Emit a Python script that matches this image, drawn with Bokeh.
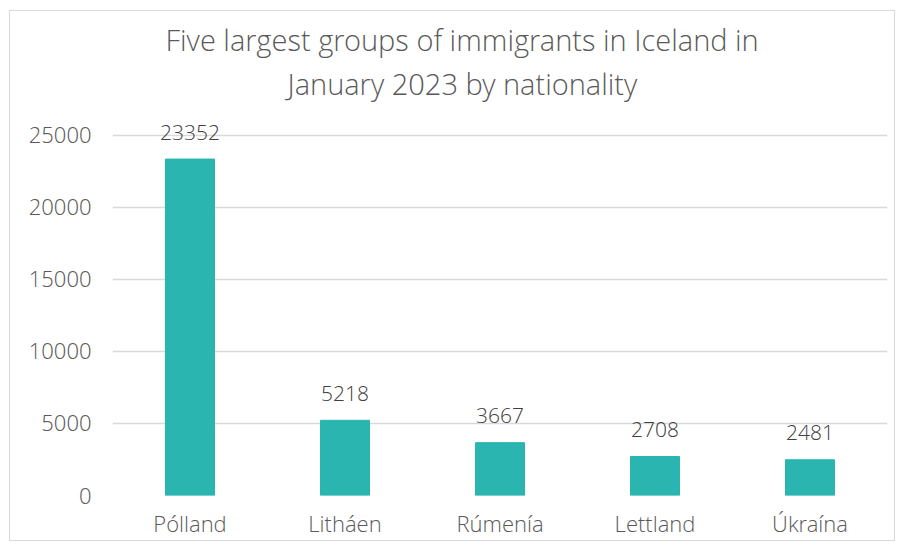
from bokeh.plotting import figure
from bokeh.models import ColumnDataSource, Range1d, FixedTicker, Title
from bokeh.core.properties import value
from bokeh.embed import file_html
from bokeh.resources import INLINE

countries = ["Pólland", "Litháen", "Rúmenía", "Lettland", "Úkraína"]
counts = [23352, 5218, 3667, 2708, 2481]
y_ticks = [0, 5000, 10000, 15000, 20000, 25000]
title_lines = ["Five largest groups of immigrants in Iceland in", "January 2023 by nationality"]

FONT = "Open Sans Light"
src = ColumnDataSource(dict(x=countries, top=counts, lab=[str(c) for c in counts]))

p = figure(x_range=countries, y_range=Range1d(0, 27000), title=None,
           width=886, height=531, output_backend="svg", toolbar_location=None,
           min_border_left=102, min_border_right=9, min_border_top=95, min_border_bottom=47,
           styles={"border": "1px solid #d9d9d9", "margin-left": "9px", "margin-top": "10px"})
p.vbar(x="x", top="top", width=0.316, source=src, color="#2ab5b0")
p.text(x="x", y="top", text="lab", source=src, text_align="center", text_baseline="alphabetic",
       y_offset=-27, text_font=value(FONT), text_font_size="21px", text_color="#404040")

# line 2 first (nearest the frame), then line 1 above it
p.add_layout(Title(text=title_lines[1], align="left", offset=175, standoff=7,
                   text_font=FONT, text_font_size="29px", text_font_style="normal",
                   text_color="#595959"), "above")
p.add_layout(Title(text=title_lines[0], align="left", offset=53, standoff=0,
                   text_line_height=1.5,
                   text_font=FONT, text_font_size="29px", text_font_style="normal",
                   text_color="#595959"), "above")

p.outline_line_color = None
p.xgrid.grid_line_color = None
p.ygrid.grid_line_color = "#d9d9d9"
p.ygrid.grid_line_width = 1.5
p.yaxis.ticker = FixedTicker(ticks=y_ticks)
for ax in (p.xaxis, p.yaxis):
    ax.axis_line_color = None
    ax.major_tick_line_color = None
    ax.minor_tick_line_color = None
    ax.major_label_text_font = FONT
    ax.major_label_text_font_size = "22px"
    ax.major_label_text_color = "#595959"
p.yaxis.major_label_standoff = 15
p.xaxis.major_label_standoff = 6
p.x_range.range_padding = 0

open("out.html", "w").write(file_html(p, INLINE))
